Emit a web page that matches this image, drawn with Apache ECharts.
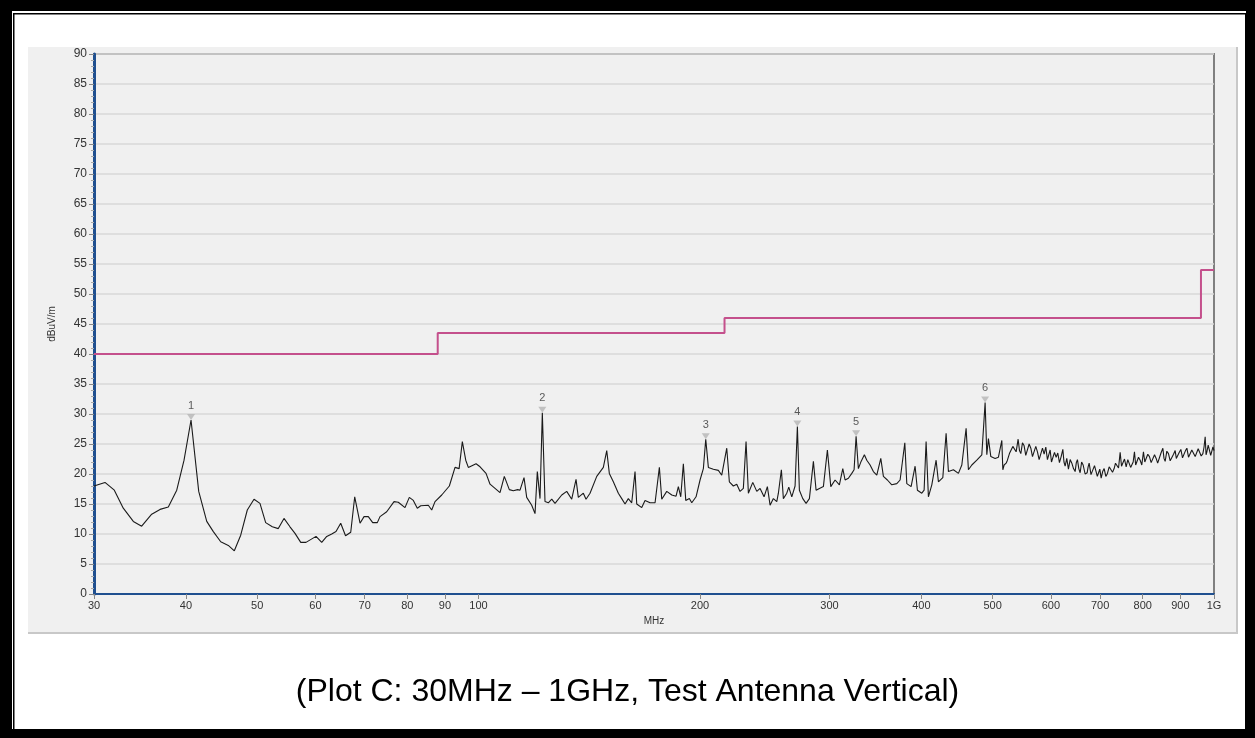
<!DOCTYPE html>
<html>
<head>
<meta charset="utf-8">
<script src="https://cdn.jsdelivr.net/npm/echarts@6/dist/echarts.min.js"></script>
<style>
html,body{margin:0;padding:0;background:#fff;}
#chart{width:1255px;height:738px;}
</style>
</head>
<body>
<div id="chart"></div>
<script>
// ---- data ----
const xTickValues = [30,40,50,60,70,80,90,100,200,300,400,500,600,700,800,900,1000];
const xTickLabels = ['30','40','50','60','70','80','90','100','200','300','400','500','600','700','800','900','1G'];

const limitFreq  = [30, 88, 88, 216, 216, 960, 960, 1000];
const limitLevel = [40, 40, 43.5, 43.5, 46, 46, 54, 54];

const traceFreq = [
30.0,31.05,31.97,32.88,33.93,34.83,35.94,36.89,37.86,38.87,39.77,40.65,41.64,42.70,43.59,44.61,45.68,46.55,47.49,48.48,
49.51,50.44,51.35,52.43,53.42,54.38,55.41,56.29,57.31,58.26,60.12,61.20,62.17,63.15,64.00,64.95,65.94,67.02,67.86,69.00,
69.87,70.81,71.79,72.84,73.45,75.01,76.75,77.78,79.43,80.51,81.53,82.55,83.44,85.45,86.36,87.26,89.11,91.26,92.9,94.1,
95.05,96.07,96.85,99.22,100.47,102.37,103.66,105.30,106.95,108.40,110.11,111.50,113.04,113.86,115.30,116.27,118.11,119.34,120.20,121.22,
122.10,123.13,124.41,125.75,127.05,129.75,131.79,133.87,135.69,136.67,138.83,140.00,141.77,144.78,147.80,149.38,150.60,152.50,154.91,156.56,
158.19,159.83,161.54,163.22,164.09,166.68,168.41,171.08,173.78,176.14,177.46,180.26,183.11,185.59,186.93,188.34,189.88,191.31,193.48,194.94,
197.58,200.07,202.15,203.67,205.34,208.58,211.87,214.13,217.51,219.29,222.05,224.43,226.76,229.12,231.06,232.75,235.98,238.95,241.44,244.47,
247.01,249.11,251.70,254.39,255.67,258.08,259.70,262.48,264.13,266.63,269.39,271.34,273.05,275.97,278.84,281.74,285.29,287.71,290.70,294.36,
298.07,301.26,305.34,309.48,312.79,315.05,318.33,321.74,324.06,326.10,328.45,331.24,334.68,337.21,340.71,344.24,347.93,352.31,355.20,359.67,
364.66,370.43,374.28,379.83,382.21,387.39,392.27,395.11,400.59,403.49,406.02,408.96,413.33,418.94,421.97,427.82,432.26,435.40,442.27,449.24,
454.05,460.20,463.53,468.49,475.89,483.39,488.41,491.02,493.49,497.21,503.96,509.20,514.64,516.26,518.36,521.62,523.74,527.04,532.67,538.21,
541.59,543.9,546.18,549.0,551.86,554.7,557.59,560.6,563.56,566.5,569.41,572.4,575.37,578.4,581.48,584.5,587.52,590.6,593.62,596.1,
598.68,601.2,603.76,606.9,610.03,613.2,616.37,619.7,622.96,625.2,627.47,630.7,634.00,637.4,640.77,644.1,647.42,649.8,652.09,654.9,
657.64,660.7,663.85,668.0,672.20,674.3,676.44,680.4,684.32,687.9,691.42,694.0,696.45,699.4,702.37,705.7,709.00,712.7,716.35,720.2,
724.02,727.8,731.54,734.6,737.76,741.6,745.42,748.6,751.73,755.6,759.56,763.5,767.45,770.3,773.22,776.4,779.55,782.5,785.43,789.5,
793.59,797.7,801.82,805.2,808.63,812.8,817.04,821.4,825.80,830.1,834.39,838.3,842.23,847.1,852.06,855.1,858.22,862.7,867.13,871.8,
876.41,881.0,885.51,888.7,891.92,896.7,901.46,906.1,910.83,914.7,918.57,923.3,928.10,932.9,937.76,942.8,947.78,951.7,955.56,960.7,
965.78,969.3,972.77,975.4,977.96,982.0,985.99,989.7,993.40,996.7,1000
];
const traceLevel = [
18.0,18.6,17.3,14.3,12.1,11.3,13.3,14.1,14.5,17.3,22.3,29.0,17.1,12.1,10.4,8.7,8.1,7.2,9.8,14.0,
15.8,15.1,11.9,11.2,10.9,12.6,11.2,10.1,8.6,8.6,9.6,8.6,9.6,10.0,10.4,11.8,9.7,10.3,16.2,11.8,
12.9,12.9,11.9,11.9,12.9,13.7,15.4,15.3,14.4,16.1,15.6,14.3,14.7,14.8,14.0,15.4,16.5,18.0,21.1,20.9,
25.4,22.3,21.1,21.7,21.2,20.1,18.3,17.6,16.9,19.6,17.4,17.2,17.4,17.3,19.4,16.1,14.8,13.4,20.4,15.9,
30.2,15.4,15.2,15.8,15.1,16.5,17.1,15.8,19.1,16.1,16.8,15.8,16.8,19.6,21.1,23.9,20.1,18.7,16.8,15.9,
15.0,15.9,15.2,20.4,15.0,14.4,15.6,15.2,15.2,21.1,15.8,17.1,16.5,16.3,17.9,16.2,21.7,15.6,15.9,15.2,
16.2,19.0,20.9,25.8,21.1,20.8,20.6,19.8,24.3,18.7,18.0,18.3,17.1,17.6,25.4,16.8,18.6,17.1,17.6,16.2,
17.9,14.8,15.9,15.4,16.8,20.7,15.9,16.8,17.8,16.2,18.0,27.9,17.3,15.9,15.1,15.9,22.1,17.3,17.6,17.9,
24.0,17.9,19.0,18.2,20.9,19.0,19.3,20.1,20.7,26.3,20.9,22.1,23.2,22.3,21.5,20.4,19.8,22.6,19.6,19.0,
18.2,18.4,19.0,25.2,18.4,17.9,21.3,17.3,16.8,17.3,25.4,16.2,18.2,22.3,18.7,19.4,26.8,20.4,20.7,20.1,
21.5,27.6,20.7,21.5,22.3,23.2,31.9,23.2,25.9,22.9,22.6,22.8,25.6,20.7,21.5,21.8,22.3,23.4,24.6,23.7,
25.8,23.9,23.4,25.2,24.7,23.1,23.4,25.0,24.3,22.9,23.2,24.6,23.7,22.4,22.6,24.3,23.3,24.5,22.4,23.2,
24.0,22.0,22.3,23.6,22.8,23.5,21.9,22.9,24.1,22.0,21.3,22.6,20.8,22.4,21.8,20.9,20.4,21.9,22.4,20.9,
20.2,22.0,21.5,20.0,20.2,21.2,21.8,19.9,20.1,21.4,21.2,19.6,19.8,20.8,19.3,20.4,20.9,19.6,20.1,21.2,
21.5,20.3,20.9,21.8,21.9,21.0,23.6,21.3,21.5,22.5,21.2,22.4,22.2,21.1,20.9,22.0,23.7,21.5,21.2,22.8,
22.3,21.5,23.7,22.0,21.7,23.3,22.9,21.9,21.8,23.2,22.6,21.8,22.1,23.5,24.3,22.6,22.1,23.8,23.4,22.2,
22.4,23.3,23.9,22.6,22.3,23.6,24.1,22.7,22.8,23.9,24.3,22.8,22.9,24.0,24.1,22.9,23.2,24.2,24.4,23.0,
23.4,24.5,26.2,23.2,23.7,24.8,24.6,23.1,23.4,24.5,23.9
];

const markerNames = ['1','2','3','4','5','6'];
const markerFreq  = [40.65, 122.10, 203.67, 271.34, 326.10, 488.41];
const markerLevel = [29.0, 30.2, 25.8, 27.9, 26.3, 31.9];

// ---- build ----
const traceData = traceFreq.map((f,i)=>[f, traceLevel[i]]);
const limitData = limitFreq.map((f,i)=>[f, limitLevel[i]]);
const markerData = markerFreq.map((f,i)=>({name: markerNames[i], value:[f, markerLevel[i]]}));

const chart = echarts.init(document.getElementById('chart'), null, {renderer:'canvas'});
const lblFont = 'Liberation Sans, Arial, sans-serif';

chart.setOption({
  animation:false,
  backgroundColor:'#ffffff',
  graphic:[
    {type:'rect', z:-100, shape:{x:0,y:0,width:1255,height:738}, style:{fill:'#000'}},
    {type:'rect', z:-99, shape:{x:12,y:11,width:1234,height:718}, style:{fill:'#fff'}},
    {type:'rect', z:-98, shape:{x:13.75,y:13.75,width:1232,height:716}, style:{fill:null, stroke:'#000', lineWidth:1.5}},
    {type:'rect', z:-97, shape:{x:28,y:47,width:1209,height:586}, style:{fill:'#f0f0f0'}},
    {type:'line', z:-96, shape:{x1:1237,y1:47,x2:1237,y2:634}, style:{stroke:'#c8c8c8', lineWidth:2}},
    {type:'line', z:-96, shape:{x1:28,y1:633,x2:1238,y2:633}, style:{stroke:'#c8c8c8', lineWidth:2}}
  ],
  title:{
    text:'(Plot C: 30MHz \u2013 1GHz, Test Antenna Vertical)',
    left:'center', top:671,
    textStyle:{fontFamily:lblFont, fontSize:32, fontWeight:'normal', color:'#000'}
  },
  grid:{left:94, right:41, top:54, bottom:144, show:true, backgroundColor:'#f0f0f0', borderColor:'#808080', borderWidth:2},
  xAxis:{
    type:'log', logBase:10, min:30, max:1000,
    name:'MHz', nameLocation:'middle', nameGap:22,
    nameTextStyle:{fontFamily:lblFont, fontSize:10, color:'#333'},
    axisLine:{show:true, lineStyle:{color:'#1f4f8f', width:2}},
    axisTick:{show:true, length:5, customValues:xTickValues, lineStyle:{color:'#888'}},
    minorTick:{show:false},
    axisLabel:{customValues:xTickValues, margin:6, fontFamily:lblFont, fontSize:11, color:'#333',
      formatter:(v)=>{const i=xTickValues.indexOf(Math.round(v)); return i>=0?xTickLabels[i]:'';}},
    splitLine:{show:false}, minorSplitLine:{show:false}
  },
  yAxis:{
    type:'value', min:0, max:90, interval:5,
    name:'dBuV/m', nameLocation:'middle', nameGap:37, nameRotate:90,
    nameTextStyle:{fontFamily:lblFont, fontSize:10, color:'#333'},
    axisLine:{show:true, lineStyle:{color:'#1f4f8f', width:3}},
    axisTick:{show:true, length:5, lineStyle:{color:'#888'}},
    minorTick:{show:true, splitNumber:5, length:3, lineStyle:{color:'#aaa'}},
    axisLabel:{margin:7, fontFamily:lblFont, fontSize:12, color:'#333'},
    splitLine:{show:true, lineStyle:{color:'#d8d8d8', width:1.5}}
  },
  series:[
    {type:'line', data:limitData, showSymbol:false, symbol:'none', lineStyle:{color:'#c4508c', width:2}, z:3},
    {type:'line', data:traceData, showSymbol:false, symbol:'none', lineStyle:{color:'#1a1a1a', width:1.1}, z:4},
    {type:'scatter', data:markerData, symbol:'triangle', symbolRotate:180, symbolSize:[8,6], symbolOffset:[0,-3],
      itemStyle:{color:'#b5b5b5'}, z:5,
      label:{show:true, position:'top', distance:3, formatter:(p)=>p.name, fontFamily:lblFont, fontSize:11, color:'#333'}}
  ]
});
</script>
</body>
</html>
